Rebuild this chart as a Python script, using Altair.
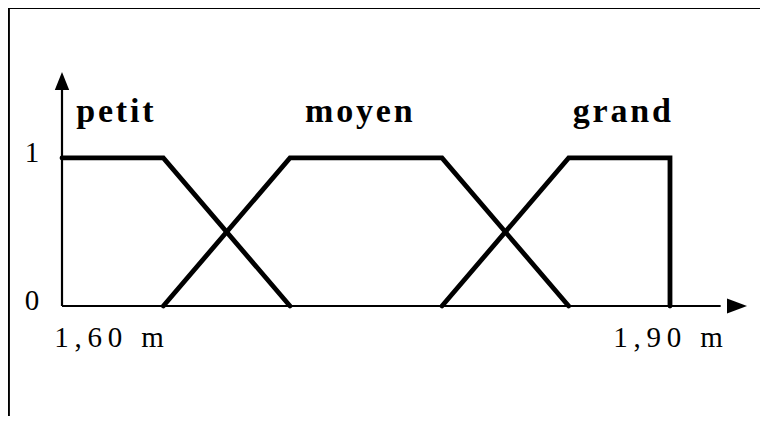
import altair as alt
import pandas as pd

# ---- data ----
series_names = ["petit", "moyen", "grand"]
petit_x = [1.60, 1.65, 1.7125]
petit_y = [1, 1, 0]
moyen_x = [1.65, 1.7125, 1.7875, 1.85]
moyen_y = [0, 1, 1, 0]
grand_x = [1.7875, 1.85, 1.90, 1.90]
grand_y = [0, 1, 1, 0]

H = "\u200a"   # hair space (letter spacing)
T = "\u2009"   # thin space (letter spacing)
set_labels = [H.join("petit"), H.join("moyen"), H.join("grand")]
set_label_x = [1.607, 1.7199, 1.852]
set_label_y = [1.243, 1.243, 1.243]

x_ticks = [1.60, 1.90]
x_tick_labels = [T.join("1,60 m"), T.join("1,90 m")]
y_ticks = [0, 1]
y_tick_labels = ["0", "1"]

x_min, x_max = 1.60, 1.938
y_min, y_max = 0.0, 1.58
x_axis_line_end = 1.925
y_axis_line_end = 1.50

# figure frame (left and top border of the scanned figure)
frame_x = [1.5738, 1.5738]
frame_x2 = [1.5738, 1.9685]
frame_y = [2.012, 2.012]
frame_y2 = [-0.77, 2.012]

# ---- tables ----
rows = []
for name, xs_, ys_ in [("petit", petit_x, petit_y), ("moyen", moyen_x, moyen_y), ("grand", grand_x, grand_y)]:
    for i, (xv, yv) in enumerate(zip(xs_, ys_)):
        rows.append({"set": name, "i": i, "x": xv, "y": yv})
mf = pd.DataFrame(rows)

labels_df = pd.DataFrame({"text": set_labels, "x": set_label_x, "y": set_label_y})
xt = pd.DataFrame({"x": x_ticks, "y": [0, 0], "text": x_tick_labels})
yt = pd.DataFrame({"x": [x_min, x_min], "y": y_ticks, "text": y_tick_labels})
axes_df = pd.DataFrame({"x": [x_min, x_min], "x2": [x_min, x_axis_line_end],
                        "y": [0, 0], "y2": [y_axis_line_end, 0]})
frame_df = pd.DataFrame({"x": frame_x, "x2": frame_x2, "y": frame_y, "y2": frame_y2})
arrow_x = pd.DataFrame({"x": [x_max], "y": [0]})
arrow_y = pd.DataFrame({"x": [x_min], "y": [y_max]})

xs = alt.Scale(domain=[x_min, x_max], nice=False, zero=False)
ys = alt.Scale(domain=[y_min, y_max], nice=False, zero=False)
X = lambda f="x": alt.X(f"{f}:Q", scale=xs, axis=None)
Y = lambda f="y": alt.Y(f"{f}:Q", scale=ys, axis=None)

SERIF = "Liberation Serif"

lines = alt.Chart(mf).mark_line(color="black", strokeWidth=4.8, strokeCap="round",
                                strokeJoin="miter").encode(
    x=X(), y=Y(), detail="set:N", order="i:Q")

axis_rules = alt.Chart(axes_df).mark_rule(color="black", strokeWidth=2.2).encode(
    x=X(), x2="x2:Q", y=Y(), y2="y2:Q")

frame = alt.Chart(frame_df).mark_rule(color="black", strokeWidth=2).encode(
    x=X(), x2="x2:Q", y=Y(), y2="y2:Q")

arrow_r = alt.Chart(arrow_x).mark_point(
    shape="M-2,-0.75L0,0L-2,0.75Z", filled=True, color="black", opacity=1, size=400,
    strokeWidth=0).encode(x=X(), y=Y())
arrow_u = alt.Chart(arrow_y).mark_point(
    shape="M-0.8,2L0,0L0.8,2Z", filled=True, color="black", opacity=1, size=324,
    strokeWidth=0).encode(x=X(), y=Y())

set_text = alt.Chart(labels_df).mark_text(
    font=SERIF, fontWeight="bold", fontSize=34, align="left", baseline="alphabetic",
    color="black").encode(x=X(), y=Y(), text="text:N")

xt1 = alt.Chart(xt.iloc[[0]]).mark_text(
    font=SERIF, fontSize=29, align="center", baseline="alphabetic", dx=47, dy=41,
    color="black").encode(x=X(), y=Y(), text="text:N")
xt2 = alt.Chart(xt.iloc[[1]]).mark_text(
    font=SERIF, fontSize=29, align="center", baseline="alphabetic", dx=-2, dy=41,
    color="black").encode(x=X(), y=Y(), text="text:N")
ytx = alt.Chart(yt).mark_text(
    font=SERIF, fontSize=29, align="center", baseline="middle", dx=-30, dy=-5,
    color="black").encode(x=X(), y=Y(), text="text:N")

chart = alt.layer(
    frame, axis_rules, lines, arrow_r, arrow_u,
    set_text, xt1, xt2, ytx
).properties(
    width=685, height=234,
    autosize=alt.AutoSizeParams(type="none"),
    padding={"left": 54, "top": 64, "right": 13, "bottom": 110},
    background="transparent",
).configure_view(strokeWidth=0)

chart.save("out.html", embed_options={"renderer": "svg", "actions": False})
